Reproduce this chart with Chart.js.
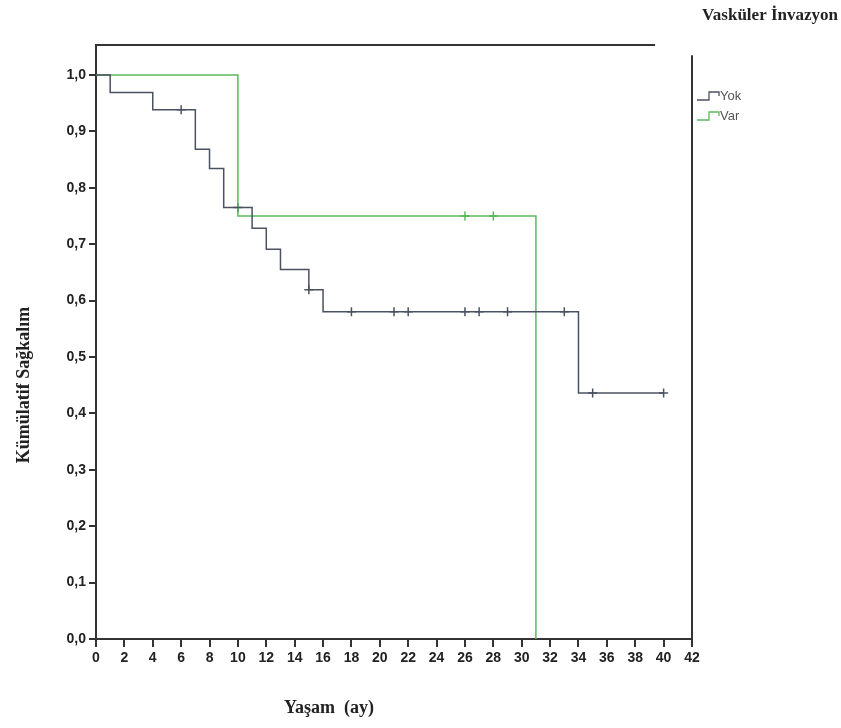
<!DOCTYPE html>
<html>
<head>
<meta charset="utf-8">
<script src="https://cdn.jsdelivr.net/npm/chart.js@4.4.1/dist/chart.umd.min.js"></script>
<style>
  html, body { margin: 0; padding: 0; background: #fff; }
  #wrap { position: relative; width: 841px; height: 728px; }
</style>
</head>
<body>
<div id="wrap"><canvas id="km-chart" width="841" height="728"></canvas></div>
<script>
// Kaplan-Meier: step times and survival after each step
const yokTimes = [0, 1, 4, 7, 8, 9, 11, 12, 13, 15, 16, 34, 40];
const yokSurv = [1.0, 0.969, 0.938, 0.868, 0.834, 0.765, 0.728, 0.691, 0.655, 0.619, 0.580, 0.436, 0.436];
const varTimes = [0, 10, 31];
const varSurv = [1.0, 0.75, 0.0];

// censored cases
const yokCensorTimes = [6, 10, 15, 18, 21, 22, 26, 27, 29, 33, 35, 40];
const yokCensorSurv = [0.938, 0.765, 0.619, 0.580, 0.580, 0.580, 0.580, 0.580, 0.580, 0.580, 0.436, 0.436];
const varCensorTimes = [26, 28];
const varCensorSurv = [0.75, 0.75];

const xTicks = [0, 2, 4, 6, 8, 10, 12, 14, 16, 18, 20, 22, 24, 26, 28, 30, 32, 34, 36, 38, 40, 42];
const yTicks = [0, 0.1, 0.2, 0.3, 0.4, 0.5, 0.6, 0.7, 0.8, 0.9, 1.0];

const seriesNames = ["Yok", "Var"];
const yokColor = "#4a5262";
const varColor = "#5cb85c";

const pts = (xs, ys) => xs.map((x, i) => ({ x: x, y: ys[i] }));

// frame, legend and titles
const decor = {
  id: "decor",
  afterDraw(chart) {
    const ctx = chart.ctx;
    const a = chart.chartArea;
    const xs = chart.scales.x, ys = chart.scales.y;
    ctx.save();
    ctx.strokeStyle = "#333";
    ctx.lineWidth = 2;
    // top frame line (stops short of right edge as in original)
    ctx.beginPath();
    ctx.moveTo(a.left, a.top);
    ctx.lineTo(xs.getPixelForValue(39.4), a.top);
    ctx.stroke();
    // right frame line
    ctx.beginPath();
    ctx.moveTo(a.right, ys.getPixelForValue(1.035));
    ctx.lineTo(a.right, a.bottom);
    ctx.stroke();

    // legend
    const colors = [yokColor, varColor];
    ctx.font = "13px 'Liberation Sans', Arial, sans-serif";
    ctx.textBaseline = "middle";
    seriesNames.forEach((name, i) => {
      const y = 96 + i * 20;
      const x0 = a.right + 5;
      ctx.strokeStyle = colors[i];
      ctx.lineWidth = 1.3;
      ctx.beginPath();
      ctx.moveTo(x0, y + 4);
      ctx.lineTo(x0 + 12, y + 4);
      ctx.lineTo(x0 + 12, y - 4);
      ctx.lineTo(x0 + 22, y - 4);
      ctx.lineTo(x0 + 22, y);
      ctx.stroke();
      ctx.fillStyle = "#555";
      ctx.textAlign = "left";
      ctx.fillText(name, x0 + 23, y);
    });

    // titles
    ctx.fillStyle = "#222";
    ctx.font = "bold 17px 'Liberation Serif', 'Times New Roman', serif";
    ctx.textAlign = "right";
    ctx.fillText("Vasküler İnvazyon", 838, 16);

    ctx.font = "bold 18px 'Liberation Serif', 'Times New Roman', serif";
    ctx.textAlign = "center";
    ctx.fillText("Yaşam  (ay)", 329, 708);

    ctx.translate(24, 385);
    ctx.rotate(-Math.PI / 2);
    ctx.font = "bold 18px 'Liberation Serif', 'Times New Roman', serif";
    ctx.fillText("Kümülatif Sağkalım", 0, 0);
    ctx.restore();
  }
};

const tickFont = { family: "'Liberation Sans', Arial, sans-serif", size: 14, weight: "bold" };

new Chart(document.getElementById("km-chart").getContext("2d"), {
  type: "line",
  data: {
    datasets: [
      {
        label: seriesNames[0],
        data: pts(yokTimes, yokSurv),
        borderColor: yokColor,
        borderWidth: 1.5,
        stepped: "before",
        pointRadius: 0,
        fill: false
      },
      {
        label: seriesNames[1],
        data: pts(varTimes, varSurv),
        borderColor: varColor,
        borderWidth: 1.5,
        stepped: "before",
        pointRadius: 0,
        fill: false
      },
      {
        type: "scatter",
        label: "Yok censored",
        data: pts(yokCensorTimes, yokCensorSurv),
        pointStyle: "cross",
        pointRadius: 4.5,
        borderColor: yokColor,
        borderWidth: 1.5
      },
      {
        type: "scatter",
        label: "Var censored",
        data: pts(varCensorTimes, varCensorSurv),
        pointStyle: "cross",
        pointRadius: 4.5,
        borderColor: varColor,
        borderWidth: 1.5
      }
    ]
  },
  options: {
    responsive: false,
    animation: false,
    layout: { padding: { left: 0, top: 45, right: 149, bottom: 0 } },
    plugins: {
      legend: { display: false },
      tooltip: { enabled: false },
      title: { display: false }
    },
    scales: {
      x: {
        type: "linear",
        min: 0,
        max: 42,
        afterFit: (s) => { s.height = 89; },
        afterBuildTicks: (s) => { s.ticks = xTicks.map(v => ({ value: v })); },
        border: { display: true, color: "#333", width: 2 },
        grid: { drawOnChartArea: false, drawTicks: true, tickLength: 8, color: "#333", lineWidth: 2 },
        ticks: { font: tickFont, color: "#222", padding: 3, maxRotation: 0, autoSkip: false }
      },
      y: {
        type: "linear",
        min: 0,
        max: 1.053,
        afterFit: (s) => { s.width = 96; },
        afterBuildTicks: (s) => { s.ticks = yTicks.map(v => ({ value: v })); },
        border: { display: true, color: "#333", width: 2 },
        grid: { drawOnChartArea: false, drawTicks: true, tickLength: 7, color: "#333", lineWidth: 2 },
        ticks: {
          font: tickFont,
          color: "#222",
          padding: 3,
          callback: (v) => v.toFixed(1).replace(".", ",")
        }
      }
    }
  },
  plugins: [decor]
});
</script>
</body>
</html>
